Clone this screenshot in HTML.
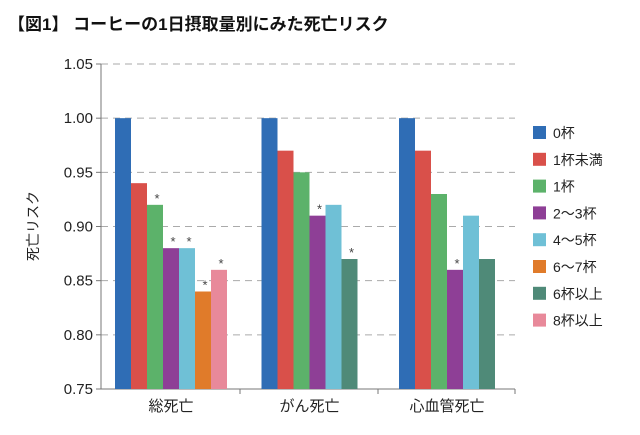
<!DOCTYPE html>
<html><head><meta charset="utf-8"><style>
body{margin:0;background:#fff;}
svg{display:block;font-family:"Liberation Sans","Noto Sans CJK JP",sans-serif;}
</style></head><body>
<svg id="c" width="640" height="435" viewBox="0 0 640 435">
<text x="8" y="30" font-size="17" font-weight="bold" fill="#111">【図1】 コーヒーの1日摂取量別にみた死亡リスク</text>
<text transform="translate(38,226) rotate(-90)" font-size="14" text-anchor="middle" fill="#222">死亡リスク</text>
<g id="grid"></g><g id="bars"></g><g id="legend"></g>
</svg>
<script>
const ticks=[0.75,0.80,0.85,0.90,0.95,1.00,1.05];
const groups=["総死亡","がん死亡","心血管死亡"];
const seriesNames=["0杯","1杯未満","1杯","2～3杯","4～5杯","6～7杯","6杯以上","8杯以上"];
const colors=["#2f6db5","#d9504a","#5cb26a","#8e3f96","#6fc0d6","#e07b2a","#4f8a78","#e8899a"];
const g1=[1.00,0.94,0.92,0.88,0.88,0.84,null,0.86];
const g2=[1.00,0.97,0.95,0.91,0.92,null,0.87,null];
const g3=[1.00,0.97,0.93,0.86,0.91,null,0.87,null];
const sig1=[0,0,1,1,1,1,0,1];
const sig2=[0,0,0,1,0,0,1,0];
const sig3=[0,0,0,1,0,0,0,0];
const vals=[g1,g2,g3], sigs=[sig1,sig2,sig3];
const NS="http://www.w3.org/2000/svg";
const y=v=>389-(v-0.75)/0.30*325;
const x0=101,x1=515;
function mk(t,a,p){const e=document.createElementNS(NS,t);for(const k in a)e.setAttribute(k,a[k]);p.appendChild(e);return e;}
const grid=document.getElementById('grid'),bars=document.getElementById('bars'),leg=document.getElementById('legend');
ticks.forEach(t=>{
 if(t!==0.75){const l=mk('line',{x1:x0,x2:x1,y1:y(t),y2:y(t),stroke:'#aaa','stroke-dasharray':'7,5','stroke-width':1},grid);
 
 }
 const tm=mk('line',{x1:96,x2:x0,y1:y(t),y2:y(t),stroke:'#777'},grid);
 
 
 const tx=mk('text',{x:93,y:y(t)+5,'text-anchor':'end','font-size':15,fill:'#222'},grid);tx.textContent=t.toFixed(2);
 
 
});
const ax=mk('line',{x1:x0,x2:x0,y1:y(1.05),y2:y(0.75),stroke:'#777'},grid);


const xa=mk('line',{x1:x0,x2:x1,y1:y(0.75),y2:y(0.75),stroke:'#777'},grid);


[240,378,x1].forEach(sx=>{const l=mk('line',{x1:sx,x2:sx,y1:y(0.75),y2:y(0.75)+5,stroke:'#777'},grid);
 
 });
const starts=[115,261.5,399],bw=16;
groups.forEach((gname,gi)=>{
 let k=0;
 vals[gi].forEach((v,si)=>{
  if(v===null)return;
  const bx=starts[gi]+k*bw;k++;
  const r=mk('rect',{x:bx,y:y(v),width:bw,height:y(0.75)-y(v),fill:colors[si]},bars);
  
  
  if(sigs[gi][si]){const s=mk('text',{x:bx+bw/2+2,y:y(v)-2,'text-anchor':'middle','font-size':13,fill:'#444'},bars);s.textContent='*';
   
   }
 });
 const cx=starts[gi]+k*bw/2;
 const t=mk('text',{x:cx,y:411,'text-anchor':'middle','font-size':15,fill:'#222'},bars);t.textContent=gname;
 
 
});
seriesNames.forEach((n,i)=>{
 const ly=126+i*26.8;
 const r=mk('rect',{x:533,y:ly,width:13,height:13,fill:colors[i]},leg);
 
 
 const t=mk('text',{x:553,y:ly+12,'font-size':14,fill:'#222'},leg);t.textContent=n;
 
 
});
</script>
</body></html>
